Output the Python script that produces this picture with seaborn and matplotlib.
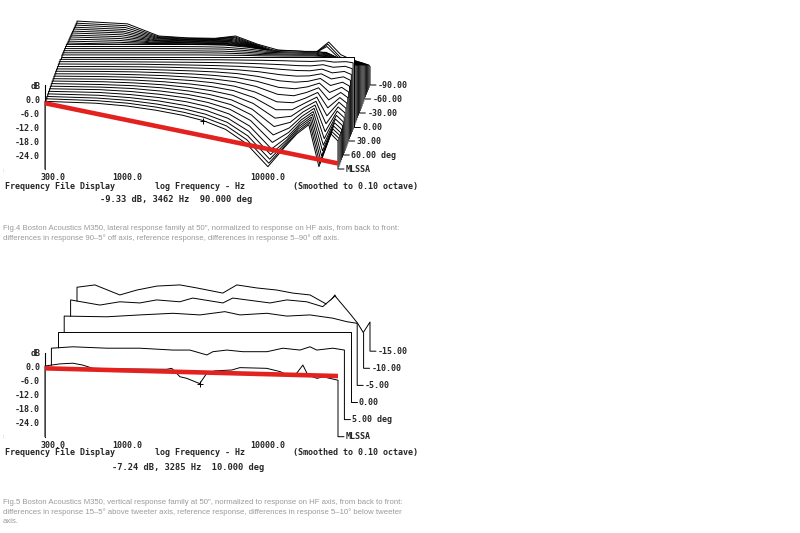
import numpy as np
import matplotlib
matplotlib.use("Agg")
import matplotlib.pyplot as plt
from matplotlib.ticker import NullFormatter
import seaborn as sns

sns.set_style("white")
plt.rcParams['font.family'] = ['DejaVu Sans Mono']
plt.rcParams['font.weight'] = 'bold'

W, H = 800, 533

# ---- Fig.4 lateral family (dB, normalized to HF axis) ----
lateral_hz = [263, 600, 1000, 1600, 2500, 3500, 5000, 7000, 10000,
              13000, 16000, 19500, 23000, 28000, 31400]

# +5 ... +90 deg (front half)
lateral_pos_db = [
    [0.0, 0.0, 0.0, -0.1, -0.2, -0.2, -0.3, -0.4, -0.6, -0.8, -0.9, -0.6, -1.2, -1.0, -1.5],
    [0.0, 0.0, -0.1, -0.2, -0.3, -0.4, -0.6, -0.9, -1.3, -1.7, -1.8, -1.3, -2.4, -2.0, -3.0],
    [0.0, -0.1, -0.1, -0.3, -0.5, -0.7, -1.0, -1.5, -2.3, -2.8, -2.9, -2.2, -3.8, -3.2, -4.5],
    [-0.1, -0.1, -0.2, -0.4, -0.7, -1.0, -1.5, -2.3, -3.6, -4.2, -4.1, -3.2, -5.4, -4.5, -6.0],
    [-0.1, -0.2, -0.3, -0.6, -1.0, -1.4, -2.1, -3.3, -5.2, -5.8, -5.4, -4.2, -7.2, -5.8, -7.5],
    [-0.1, -0.2, -0.4, -0.8, -1.3, -1.9, -2.8, -4.4, -7.0, -7.6, -6.8, -5.2, -9.2, -7.0, -9.0],
    [-0.2, -0.3, -0.6, -1.0, -1.7, -2.4, -3.6, -5.6, -9.0, -9.6, -8.2, -6.2, -11.4, -8.2, -10.4],
    [-0.2, -0.4, -0.7, -1.3, -2.1, -3.0, -4.5, -7.0, -11.2, -11.6, -9.6, -7.2, -13.8, -9.4, -11.8],
    [-0.3, -0.5, -0.9, -1.6, -2.6, -3.7, -5.4, -8.4, -13.6, -13.6, -10.8, -8.2, -16.2, -10.4, -13.0],
    [-0.3, -0.6, -1.1, -1.9, -3.1, -4.4, -6.4, -9.9, -16.2, -15.4, -11.8, -9.0, -18.6, -11.4, -14.0],
    [-0.4, -0.8, -1.3, -2.2, -3.6, -5.1, -7.4, -11.4, -18.8, -17.0, -12.6, -9.6, -21.0, -12.2, -15.0],
    [-0.5, -0.9, -1.5, -2.6, -4.1, -5.8, -8.4, -12.8, -21.4, -18.4, -13.4, -10.0, -23.0, -13.0, -15.8],
    [-0.6, -1.0, -1.8, -3.0, -4.6, -6.5, -9.4, -14.2, -23.6, -19.4, -14.0, -10.4, -24.8, -13.6, -16.4],
    [-0.7, -1.2, -2.1, -3.4, -5.2, -7.2, -10.4, -15.6, -25.4, -20.2, -14.4, -10.6, -26.2, -14.2, -17.0],
    [-0.8, -1.4, -2.4, -3.8, -5.8, -7.9, -11.3, -16.8, -26.8, -20.6, -14.6, -10.8, -27.4, -14.6, -17.4],
    [-0.9, -1.6, -2.6, -4.2, -6.3, -8.5, -12.0, -17.8, -27.8, -20.8, -14.8, -10.9, -28.2, -14.8, -17.6],
    [-0.9, -1.7, -2.8, -4.5, -6.7, -8.9, -12.5, -18.5, -28.5, -21.0, -15.0, -11.0, -28.7, -15.0, -17.8],
    [-1.0, -1.8, -3.0, -4.8, -7.0, -9.3, -13.0, -19.0, -29.0, -21.0, -15.0, -11.0, -29.0, -15.0, -18.0],
]

# reference response (0 deg)
lateral_ref_db = [0.0] * 15

# -5 ... -90 deg (back half)
lateral_neg_db = [
    [-0.1, -0.1, -0.1, -0.1, -0.1, -0.2, -0.3, -0.5, -0.6, -0.6, -0.6, -0.8, -2.0, -3.5, -4.5],
    [-0.2, -0.2, -0.2, -0.2, -0.2, -0.3, -0.6, -1.0, -1.1, -1.2, -1.2, -1.6, -3.0, -4.5, -5.5],
    [-0.3, -0.3, -0.3, -0.3, -0.4, -0.5, -0.9, -1.5, -1.7, -1.8, -1.8, -2.4, -4.0, -5.5, -6.5],
    [-0.4, -0.4, -0.4, -0.4, -0.5, -0.6, -1.2, -2.0, -2.2, -2.4, -2.4, -3.2, -5.0, -6.5, -7.5],
    [-0.5, -0.5, -0.5, -0.5, -0.6, -0.8, -1.5, -2.5, -2.8, -3.0, -3.0, -4.0, -6.0, -7.5, -8.5],
    [-0.6, -0.6, -0.6, -0.6, -0.7, -0.9, -1.8, -3.0, -3.3, -3.6, -3.6, -4.8, -7.0, -8.5, -9.5],
    [-1.0, -1.5, -1.5, -1.6, -1.7, -1.8, -2.5, -4.5, -5.5, -5.5, -5.0, -7.5, -8.0, -9.5, -10.5],
    [-1.2, -1.7, -2.2, -2.3, -2.5, -2.5, -3.4, -5.6, -6.5, -6.5, -6.0, -8.5, -9.0, -10.5, -11.5],
    [-1.3, -1.9, -2.9, -3.0, -3.2, -3.2, -4.3, -6.7, -7.5, -7.5, -7.0, -9.5, -10.0, -11.5, -12.5],
    [-1.4, -2.1, -3.6, -3.8, -4.0, -3.9, -5.2, -7.8, -8.5, -8.5, -8.0, -10.5, -11.0, -12.5, -13.5],
    [-1.6, -2.3, -4.2, -4.5, -4.7, -4.6, -6.1, -8.9, -9.5, -9.5, -9.0, -11.5, -12.0, -13.5, -14.5],
    [-1.7, -2.5, -4.9, -5.2, -5.5, -5.3, -7.0, -10.0, -10.5, -10.5, -10.0, -12.5, -13.0, -14.5, -15.5],
    [-1.9, -2.7, -5.6, -6.0, -6.2, -5.9, -7.9, -11.0, -11.5, -11.5, -11.0, -13.5, -14.0, -15.5, -16.5],
    [-2.0, -3.0, -6.2, -6.7, -7.0, -6.5, -8.9, -12.0, -12.5, -12.5, -12.0, -14.5, -15.0, -16.5, -17.5],
    [-2.2, -3.2, -6.9, -7.5, -7.7, -7.1, -9.9, -13.0, -13.5, -13.5, -13.0, -15.5, -16.0, -17.5, -18.5],
    [-2.3, -3.4, -7.6, -8.3, -8.5, -7.7, -10.9, -14.0, -14.5, -14.5, -11.5, -16.5, -17.0, -18.5, -19.5],
    [-2.5, -3.6, -8.3, -9.0, -9.2, -8.4, -11.7, -14.6, -15.2, -15.5, -11.5, -17.0, -18.0, -19.5, -20.5],
    [-2.6, -3.8, -9.0, -9.8, -10.0, -9.0, -12.5, -15.0, -15.5, -16.0, -11.6, -17.0, -19.0, -21.0, -22.0],
]

lateral_labels = {36: "-90.00", 30: "-60.00", 24: "-30.00", 18: "0.00",
                  12: "30.00", 6: "60.00 deg", 0: "MLSSA"}
lateral_trend_hz = [263, 31400]
lateral_trend_db = [-1.8, -27.6]
lateral_cursor = (3462, -9.33)

# ---- Fig.5 vertical family ----
vert_p10_hz = [263, 335, 414, 487, 574, 1050, 1920, 2080, 2380, 2660, 3285, 3690, 4200,
               5550, 6330, 9800, 12200, 13800, 16000, 17700, 19200, 22300, 24600, 27500, 31400]
vert_p10_db = [0.3, 1.2, 1.5, 0.7, -0.7, -1.0, -1.1, -0.7, -4.3, -5.0, -7.24, -2.8, -1.8,
               -1.4, -0.4, -0.7, -2.1, -3.6, -2.8, 0.7, -3.6, -5.0, -4.3, -5.0, -5.8]
vert_p5_hz = [263, 373, 650, 1110, 1910, 2520, 3330, 3670, 4610, 5990, 8880, 11500,
              15200, 17900, 20000, 26000, 31400]
vert_p5_db = [0.6, 1.2, 0.6, 0.6, -0.2, -0.2, -2.3, -0.9, -0.2, -0.9, -0.9, 0.6,
              -0.2, 1.2, -0.2, 0.6, -0.2]
vert_0_hz = [263, 31400]
vert_0_db = [0.0, 0.0]
vert_m5_hz = [263, 527, 904, 1550, 2410, 3620, 4630, 7190, 9940, 14500, 21100, 26500, 31400]
vert_m5_db = [-0.3, -0.6, 0.2, 0.9, 0.2, 1.6, 0.2, 0.9, -0.3, 0.2, -1.2, -2.7, -3.4]
vert_m10_hz = [263, 424, 587, 814, 1070, 1560, 1930, 3160, 3710, 6810, 8970, 12400,
               16100, 19700, 24900, 28400, 31400]
vert_m10_db = [-0.7, -2.9, -1.5, -2.0, -0.7, -1.5, 0.1, -2.0, 0.1, -2.0, -0.7, -1.5,
               -3.6, 1.0, -6.3, -10.6, -14.9]
vert_m15_hz = [263, 352, 529, 698, 968, 1410, 1860, 2840, 3570, 4950, 6860, 8900, 11800,
               15800, 17700, 20200, 23400, 25400, 28000, 31400]
vert_m15_db = [-2.6, -1.6, -5.9, -3.8, -2.1, -1.6, -2.9, -5.1, -1.6, -2.9, -3.8, -5.1, -5.9,
               -10.2, -5.9, -13.6, -17.5, -17.9, -22.2, -17.5]

vertical_labels = {5: "-15.00", 4: "-10.00", 3: "-5.00", 2: "0.00", 1: "5.00 deg", 0: "MLSSA"}
vertical_trend_hz = [263, 31400]
vertical_trend_db = [-0.7, -4.0]
vertical_cursor = (3285, -7.24)

FLOOR = -30.0
PX_DEC = 293 / np.log10(31400 / 263)   # pixels per decade on screen
MONO = 6.0


def fig_xy(x, y):
    return x / W, 1 - y / H


def draw_family(ax, traces, dx_px, dy_db, labels):
    """traces: list of (hz, db), index 0 = front trace."""
    n = len(traces)
    dx_dec = dx_px / PX_DEC
    conn = 10 ** (6 / PX_DEC)
    gap = 10 ** (8 / PX_DEC)
    for i in range(n - 1, -1, -1):
        hz, db = traces[i]
        xs = np.asarray(hz, float) * 10 ** (i * dx_dec)
        ys = np.asarray(db, float) + i * dy_db
        floor = FLOOR + i * dy_db
        z = 2 * (n - i) + 5
        ax.fill_between(xs, floor, ys, color='white', lw=0, zorder=z, clip_on=False)
        ox = [xs[0]] + list(xs) + [xs[-1]]
        oy = [floor] + list(ys) + [floor]
        if i in labels:
            ox.append(xs[-1] * conn)
            oy.append(floor)
            ax.text(xs[-1] * gap, floor, labels[i], fontsize=MONO, va='center',
                    ha='left', zorder=400, clip_on=False)
        sns.lineplot(x=ox, y=oy, sort=False, estimator=None, color='black',
                     lw=0.7, ax=ax, zorder=z + 1, clip_on=False)


def setup_axes(ax):
    ax.set_xscale('log')
    ax.set_xlim(263, 31400)
    ax.set_ylim(-30, 6)
    ax.patch.set_visible(False)
    for s in ['top', 'right', 'bottom']:
        ax.spines[s].set_visible(False)
    ax.spines['left'].set_linewidth(0.8)
    ax.spines['left'].set_color('black')
    ax.set_yticks([6, 0, -6, -12, -18, -24])
    ax.set_yticklabels(['dB', '0.0', '-6.0', '-12.0', '-18.0', '-24.0'])
    ax.set_xticks([300, 1000, 10000])
    ax.set_xticklabels(['300.0', '1000.0', '10000.0'])
    minor = [400, 500, 600, 700, 800, 900, 2000, 3000, 4000, 5000, 6000,
             7000, 8000, 9000, 20000, 30000]
    ax.set_xticks(minor, minor=True)
    ax.xaxis.set_minor_formatter(NullFormatter())
    ax.tick_params(axis='both', which='both', direction='out', color='black',
                   width=0.8, labelsize=MONO)
    ax.tick_params(axis='x', which='both', length=2.5, pad=0.3)
    ax.tick_params(axis='y', length=2.5, pad=1)
    ax.set_xlabel('')
    ax.set_ylabel('')


def axis_texts(y_row, x_read, y_read, readout):
    fig.text(*fig_xy(5, y_row), 'Frequency File Display', fontsize=MONO, va='center')
    fig.text(*fig_xy(155, y_row), 'log Frequency - Hz', fontsize=MONO, va='center')
    fig.text(*fig_xy(293, y_row), '(Smoothed to 0.10 octave)', fontsize=MONO, va='center')
    fig.text(*fig_xy(x_read, y_read), readout, fontsize=6.3, va='center')


fig = plt.figure(figsize=(W / 100, H / 100), dpi=100)
fig.patch.set_facecolor('white')

# top: lateral
ax1 = fig.add_axes([45 / W, 1 - 169 / H, 293 / W, 84 / H])
lat_traces = [(lateral_hz, row) for row in reversed(lateral_pos_db)]
lat_traces.append((lateral_hz, lateral_ref_db))
lat_traces += [(lateral_hz, row) for row in lateral_neg_db]
draw_family(ax1, lat_traces, 32 / 36, 1.0, lateral_labels)
sns.lineplot(x=lateral_trend_hz, y=lateral_trend_db, color='#e3211f', lw=3.3,
             ax=ax1, zorder=300, clip_on=False, solid_capstyle='butt')
ax1.plot([lateral_cursor[0]], [lateral_cursor[1]], marker='+', color='black',
         ms=5, mew=0.7, zorder=301)
setup_axes(ax1)
axis_texts(186, 100, 200, '-9.33 dB, 3462 Hz  90.000 deg')

# bottom: vertical
ax2 = fig.add_axes([45 / W, 1 - 436.7 / H, 293 / W, 84 / H])
vert_traces = [(vert_p10_hz, vert_p10_db), (vert_p5_hz, vert_p5_db),
               (vert_0_hz, vert_0_db), (vert_m5_hz, vert_m5_db),
               (vert_m10_hz, vert_m10_db), (vert_m15_hz, vert_m15_db)]
draw_family(ax2, vert_traces, 6.4, 7.33, vertical_labels)
sns.lineplot(x=vertical_trend_hz, y=vertical_trend_db, color='#e3211f', lw=3.3,
             ax=ax2, zorder=300, clip_on=False, solid_capstyle='butt')
ax2.plot([vertical_cursor[0]], [vertical_cursor[1]], marker='+', color='black',
         ms=5, mew=0.7, zorder=301)
setup_axes(ax2)
axis_texts(452.5, 112, 467, '-7.24 dB, 3285 Hz  10.000 deg')

# captions
cap = dict(fontsize=5.6, color='#9a9a9a', family=['Liberation Sans', 'DejaVu Sans'],
           weight='normal', va='center')
fig.text(*fig_xy(3, 228), 'Fig.4 Boston Acoustics M350, lateral response family at 50", '
         'normalized to response on HF axis, from back to front:', **cap)
fig.text(*fig_xy(3, 238.5), 'differences in response 90\u20135\u00b0 off axis, reference '
         'response, differences in response 5\u201390\u00b0 off axis.', **cap)
fig.text(*fig_xy(3, 503), 'Fig.5 Boston Acoustics M350, vertical response family at 50", '
         'normalized to response on HF axis, from back to front:', **cap)
fig.text(*fig_xy(3, 512.5), 'differences in response 15\u20135\u00b0 above tweeter axis, '
         'reference response, differences in response 5\u201310\u00b0 below tweeter', **cap)
fig.text(*fig_xy(3, 521.5), 'axis.', **cap)
fig.text(*fig_xy(2, 170), ':', fontsize=4, color='#bbbbbb', weight='normal', va='center')
fig.text(*fig_xy(2, 437), ':', fontsize=4, color='#bbbbbb', weight='normal', va='center')

fig.savefig('out.png', dpi=100, facecolor='white')
